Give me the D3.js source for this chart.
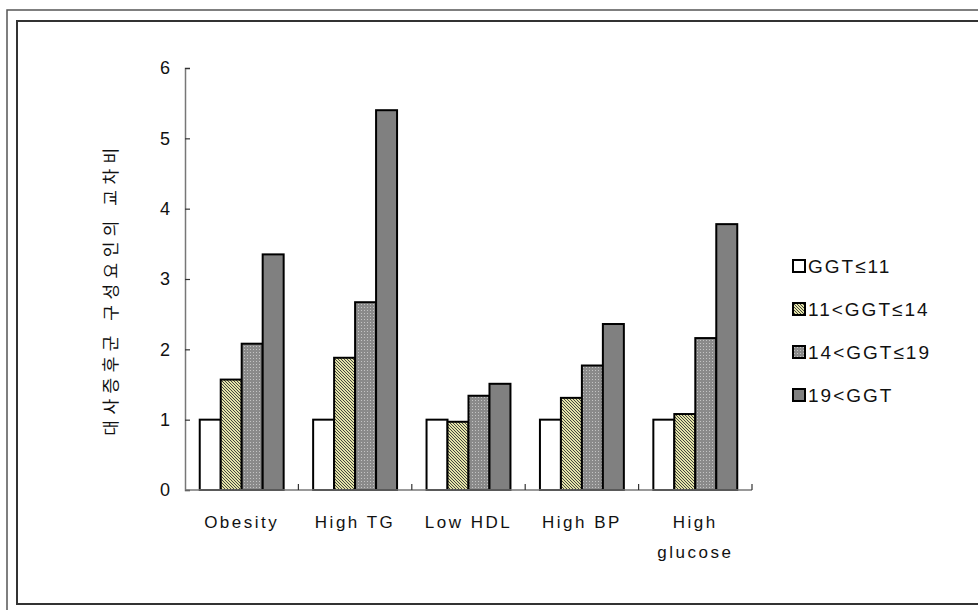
<!DOCTYPE html>
<html>
<head>
<meta charset="utf-8">
<script src="https://cdn.jsdelivr.net/npm/d3@7"></script>
<style>
  body { margin: 0; background: #fff; }
  text { font-family: "Liberation Sans", Arial, sans-serif; fill: #111; }
  .ko { font-family: "Noto Sans CJK KR", sans-serif; }
</style>
</head>
<body>
<div id="chart"></div>
<script>
var svgWidth = 978;
var svgHeight = 610;

// data
var categories = ["Obesity", "High TG", "Low HDL", "High BP", "High glucose"];
var series = ["GGT≤11", "11<GGT≤14", "14<GGT≤19", "19<GGT"];
var ggt1 = [1, 1, 1, 1, 1];
var ggt2 = [1.57, 1.88, 0.97, 1.31, 1.08];
var ggt3 = [2.08, 2.67, 1.34, 1.77, 2.16];
var ggt4 = [3.35, 5.40, 1.51, 2.36, 3.78];
var yTicks = [0, 1, 2, 3, 4, 5, 6];
var yTitle = "대사증후군 구성요인의 교차비";

var values = [ggt1, ggt2, ggt3, ggt4];
var rows = [];
categories.forEach((c, i) => {
  series.forEach((s, j) => rows.push({cat: c, s: s, v: values[j][i]}));
});

var plot = {left: 185, right: 752, top: 68, bottom: 490};

var svg = d3.select("#chart")
  .append("svg")
  .attr("width", svgWidth)
  .attr("height", svgHeight);

// patterns
var defs = svg.append("defs");
var hatch = defs.append("pattern")
  .attr("id", "hatch")
  .attr("patternUnits", "userSpaceOnUse")
  .attr("width", 3).attr("height", 3);
hatch.append("rect").attr("width", 3).attr("height", 3).attr("fill", "#e4e4a8");
hatch.append("path")
  .attr("d", "M-1,-1 L4,4 M-1,2 L1,4 M2,-1 L4,1")
  .attr("stroke", "#333").attr("stroke-width", 0.9);

var dots = defs.append("pattern")
  .attr("id", "dots")
  .attr("patternUnits", "userSpaceOnUse")
  .attr("width", 3).attr("height", 3);
dots.append("rect").attr("width", 3).attr("height", 3).attr("fill", "#8a8a8a");
dots.append("rect").attr("x", 1).attr("y", 1).attr("width", 1).attr("height", 1).attr("fill", "#c4c4c4");

var fills = {};
fills[series[0]] = "#ffffff";
fills[series[1]] = "url(#hatch)";
fills[series[2]] = "url(#dots)";
fills[series[3]] = "#808080";

// frames
svg.append("path")
  .attr("d", `M7,${svgHeight} L7,10 L${svgWidth},10`)
  .attr("fill", "none").attr("stroke", "#555").attr("stroke-width", 1.5);
svg.append("path")
  .attr("d", `M${svgWidth},21 L17,21 L17,604 L${svgWidth},604`)
  .attr("fill", "none").attr("stroke", "#333").attr("stroke-width", 2);

var x0 = d3.scaleBand()
  .domain(categories)
  .range([plot.left, plot.right]);

var x1 = d3.scaleBand()
  .domain(series)
  .range([x0.bandwidth() * 0.13, x0.bandwidth() * 0.87]);

var y = d3.scaleLinear()
  .domain([0, 6])
  .range([plot.bottom, plot.top]);

// bars
svg.append("g")
  .selectAll("rect")
  .data(rows)
  .enter()
  .append("rect")
  .attr("x", d => x0(d.cat) + x1(d.s))
  .attr("y", d => y(d.v))
  .attr("width", x1.bandwidth())
  .attr("height", d => y(0) - y(d.v))
  .attr("fill", d => fills[d.s])
  .attr("stroke", "#000")
  .attr("stroke-width", 2);

// y axis
var yAxis = svg.append("g")
  .attr("transform", `translate(${plot.left},0)`)
  .call(d3.axisRight(y).tickValues(yTicks).tickSize(5).tickFormat(d3.format("d")));
yAxis.select(".domain").attr("stroke", "#777").attr("stroke-width", 1.5);
yAxis.selectAll(".tick line").attr("stroke", "#333").attr("stroke-width", 1.2);
yAxis.selectAll(".tick text")
  .attr("x", -15)
  .attr("text-anchor", "end")
  .attr("font-size", 18)
  .attr("fill", "#111")
  .attr("font-family", "Liberation Sans, Arial, sans-serif");

// x axis: baseline plus boundary ticks
var bounds = categories.map(c => x0(c) + x0.bandwidth());
svg.append("line")
  .attr("x1", plot.left).attr("x2", plot.right)
  .attr("y1", plot.bottom).attr("y2", plot.bottom)
  .attr("stroke", "#777").attr("stroke-width", 1.5);
svg.append("g")
  .selectAll("line")
  .data(bounds)
  .enter()
  .append("line")
  .attr("x1", d => d).attr("x2", d => d)
  .attr("y1", plot.bottom).attr("y2", plot.bottom - 6)
  .attr("stroke", "#333").attr("stroke-width", 1.2);

// category labels
var labelLines = {"High glucose": ["High", "glucose"]};
var xLabels = svg.append("g")
  .selectAll("text")
  .data(categories)
  .enter()
  .append("text")
  .attr("x", d => x0(d) + x0.bandwidth() / 2)
  .attr("y", 528)
  .attr("text-anchor", "middle")
  .attr("font-size", 17)
  .attr("letter-spacing", 2.5);
xLabels.each(function(d) {
  var lines = labelLines[d] || [d];
  var t = d3.select(this);
  lines.forEach((l, i) => {
    t.append("tspan")
      .attr("x", x0(d) + x0.bandwidth() / 2)
      .attr("dy", i === 0 ? 0 : 30)
      .text(l);
  });
});

// y title
svg.append("text")
  .attr("class", "ko")
  .attr("transform", "translate(112,289) rotate(-90)")
  .attr("text-anchor", "middle")
  .attr("dominant-baseline", "middle")
  .attr("font-size", 17)
  .attr("letter-spacing", 5.5)
  .text(yTitle);

// legend
var legend = svg.append("g")
  .selectAll("g")
  .data(series)
  .enter()
  .append("g")
  .attr("transform", (d, i) => `translate(793,${266 + i * 43})`);
legend.append("rect")
  .attr("x", 0).attr("y", -6)
  .attr("width", 12).attr("height", 12)
  .attr("fill", d => fills[d])
  .attr("stroke", "#000")
  .attr("stroke-width", 2);
legend.append("text")
  .attr("x", 15)
  .attr("y", 7)
  .attr("font-size", 19)
  .attr("letter-spacing", 2)
  .text(d => d);
</script>
</body>
</html>
